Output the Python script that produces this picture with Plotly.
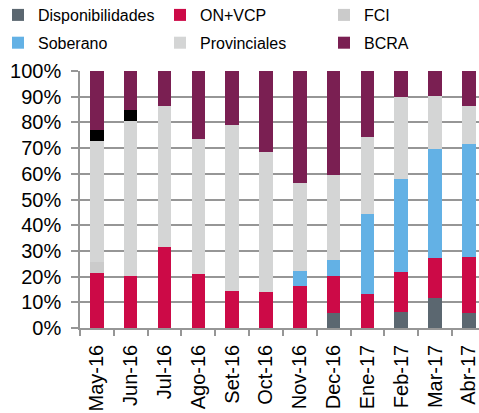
import plotly.graph_objects as go

categories = ["May-16", "Jun-16", "Jul-16", "Ago-16", "Set-16", "Oct-16",
              "Nov-16", "Dec-16", "Ene-17", "Feb-17", "Mar-17", "Abr-17"]

disponibilidades = [0, 0, 0, 0, 0, 0, 0, 5.7, 0, 6.4, 11.7, 6.0]
on_vcp = [21.4, 20.4, 31.6, 20.9, 14.4, 14.0, 16.4, 14.7, 13.4, 15.4, 15.6, 21.5]
fci = [4.2, 0, 0, 0, 0, 0, 0, 0, 0, 0, 0, 0]
soberano = [0, 0, 0, 0, 0, 0, 5.9, 6.0, 30.9, 36.3, 42.3, 44.1]
provinciales = [47.3, 60.2, 54.8, 52.7, 64.4, 54.3, 34.3, 33.0, 30.1, 31.8, 20.5, 14.6]
otros = [4.0, 4.3, 0, 0, 0, 0, 0, 0, 0, 0, 0, 0]
bcra = [23.1, 15.1, 13.6, 26.4, 21.2, 31.7, 43.4, 40.6, 25.6, 10.1, 9.9, 13.8]

# name, values, colour, legend id (None = hidden)
series = [
    ("Disponibilidades", disponibilidades, "#5b6770", "legend"),
    ("ON+VCP", on_vcp, "#cc0a47", "legend2"),
    ("FCI", fci, "#cbcbcb", "legend3"),
    ("Soberano", soberano, "#63b1e5", "legend"),
    ("Provinciales", provinciales, "#d4d5d5", "legend2"),
    ("Otros", otros, "#000000", None),
    ("BCRA", bcra, "#7a1f52", "legend3"),
]

fig = go.Figure()
for name, vals, color, leg in series:
    fig.add_trace(go.Bar(x=categories, y=vals, name=name, marker_color=color,
                         marker_line_width=0, showlegend=leg is not None,
                         legend=leg if leg else "legend", legendgroup=name))

axis_col = "#969696"
plot_h = 413 - 71 - 85
plot_w = 479 - 80


def leg(px_left):
    return dict(orientation="v", x=(px_left - 80) / plot_w, y=(413 - 85 + 2) / plot_h,
                xanchor="left", yanchor="top", traceorder="grouped",
                tracegroupgap=4, font=dict(size=16), bgcolor="rgba(0,0,0,0)",
                borderwidth=0, itemwidth=30)


fig.update_layout(
    width=479, height=413,
    margin=dict(l=80, r=0, t=71, b=85, autoexpand=False),
    barmode="stack", bargap=0.6,
    plot_bgcolor="white", paper_bgcolor="white",
    font=dict(family="Liberation Sans, Arial, sans-serif", color="#000000", size=20),
    legend=leg(-2), legend2=leg(160), legend3=leg(324),
)
fig.update_yaxes(range=[0, 100], dtick=10, ticksuffix="%", showgrid=True,
                 gridcolor=axis_col, gridwidth=1.5, showline=True, linecolor=axis_col,
                 linewidth=1.5, ticks="outside", ticklen=7, tickwidth=1.5,
                 tickcolor=axis_col, zeroline=False, tickfont=dict(size=20),
                 ticklabelstandoff=6, automargin=False)
fig.update_xaxes(type="category", range=[-0.5, 11.3], tickangle=-90, ticks="outside",
                 tickson="boundaries", ticklen=6, tickwidth=1.5, tickcolor=axis_col,
                 showline=True, linecolor=axis_col, linewidth=1.5, showgrid=False,
                 tickfont=dict(size=20), ticklabelstandoff=7, automargin=False)

fig.write_html("out.html", config={"displayModeBar": False},
               post_script="document.body.style.margin='0';document.body.style.padding='0';")
